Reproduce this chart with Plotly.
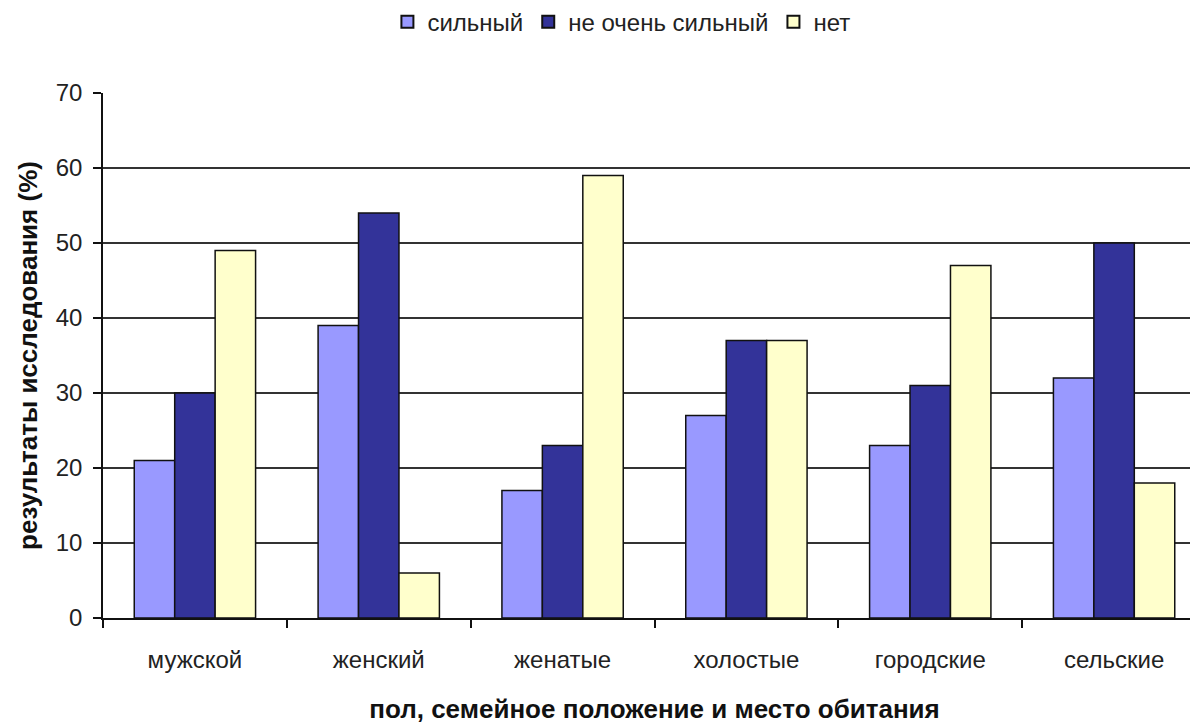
import plotly.graph_objects as go

categories = ["мужской", "женский", "женатые", "холостые", "городские", "сельские"]
series_names = ["сильный", "не очень сильный", "нет"]
strong = [21, 39, 17, 27, 23, 32]
not_very = [30, 54, 23, 37, 31, 50]
none_ = [49, 6, 59, 37, 47, 18]
colors = ["#9999FF", "#333399", "#FFFFCC"]

fig = go.Figure()
for name, vals, c in zip(series_names, [strong, not_very, none_], colors):
    fig.add_trace(go.Bar(x=categories, y=vals, name=name,
                         marker=dict(color=c, line=dict(color="#111111", width=1.5))))

font = "Liberation Sans, Arial, sans-serif"
fig.update_layout(
    width=1198, height=722,
    paper_bgcolor="white", plot_bgcolor="white",
    margin=dict(l=95, r=0, t=85, b=112, autoexpand=False),
    barmode="group", bargap=0.34, bargroupgap=0,
    font=dict(family=font, size=22, color="#222222"),
    showlegend=True,
    legend=dict(orientation="h", xref="paper", yref="paper",
                x=0.47, xanchor="center", y=1.135, yanchor="middle",
                font=dict(size=24, color="#222222"), traceorder="normal",
                itemwidth=30, itemsizing="constant"),
    xaxis=dict(range=[-0.5, 5.5], showline=True, linecolor="#111111", linewidth=1.5,
               ticks="outside", tickson="boundaries", ticklen=8, tickcolor="#111111",
               tickwidth=1.5, showgrid=False, ticklabelstandoff=19, automargin=False,
               tickangle=0,
               tickfont=dict(size=24, color="#222222"),
               title=dict(text="<b>пол, семейное положение и место обитания</b>",
                          font=dict(size=26, color="#111111"), standoff=28)),
    yaxis=dict(range=[0, 70], dtick=10, showline=True, linecolor="#111111", linewidth=1.5,
               ticks="outside", ticklen=8, tickcolor="#111111", tickwidth=1.5,
               showgrid=True, gridcolor="#333333", gridwidth=1.5, zeroline=False,
               tickfont=dict(size=24, color="#222222"), ticklabelstandoff=6,
               automargin=False,
               title=dict(text="<b>результаты исследования (%)</b>",
                          font=dict(size=26, color="#111111"), standoff=11)),
)
fig.write_html("out.html")
